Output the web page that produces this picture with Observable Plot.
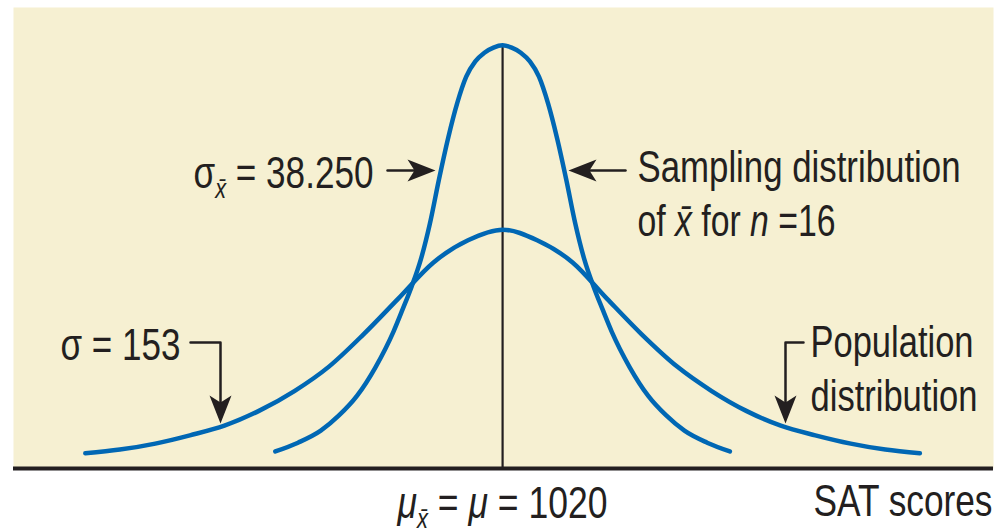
<!DOCTYPE html>
<html>
<head>
<meta charset="utf-8">
<script src="https://cdn.jsdelivr.net/npm/d3@7"></script>
<script src="https://cdn.jsdelivr.net/npm/@observablehq/plot@0.6"></script>
<style>
  html, body { margin: 0; padding: 0; background: #ffffff; }
  #chart svg { display: block; }
</style>
</head>
<body>
<div id="chart"></div>
<script>
// ---- Data (SAT scores on x, relative height on y) ----
const populationX = [561, 599, 638, 676, 714, 752, 791, 829, 867, 905, 944, 982, 1020,
                     1058, 1097, 1135, 1173, 1212, 1250, 1288, 1326, 1364, 1403, 1441, 1479];
const populationY = [3.3, 4.1, 5.4, 7.2, 9.3, 12.5, 16.8, 22.1, 29.1, 36.8, 44.7, 49.5, 51.8,
                     49.5, 44.7, 36.8, 29.1, 22.1, 16.8, 12.5, 9.3, 7.2, 5.4, 4.1, 3.3];

const samplingX = [770, 795, 820, 840, 860, 880, 900, 910, 920, 930, 940, 950, 960, 970, 980, 990, 1000, 1010,
                   1020, 1030, 1040, 1050, 1060, 1070, 1080, 1090, 1100, 1110, 1120, 1130, 1140, 1160, 1180,
                   1200, 1220, 1245, 1270];
const samplingY = [3.7, 5.6, 8.2, 11.5, 15.8, 21.9, 29.7, 34.5, 39.5, 45.3, 53.1, 62.7, 71.6, 79.2, 85.0, 88.3, 90.2, 91.3,
                   91.8, 91.3, 90.2, 88.3, 85.0, 79.2, 71.6, 62.7, 53.1, 45.3, 39.5, 34.5, 29.7, 21.9, 15.8,
                   11.5, 8.2, 5.6, 3.7];

const mean = 1020;
const samplingPeak = 91.8;

// ---- Annotations ----
const labelTexts = ["σ_{x̄} = 38.250", "Sampling distribution", "of *x̄* for *n* =16", "σ = 153",
                    "Population", "distribution", "*μ*_{x̄} = *μ* = 1020", "SAT scores"];
const labelX = [680, 1168.4, 1168.4, 533.7, 1358.7, 1358.7, 904.4, 1362];
const labelY = [60.95, 62.04, 50.54, 23.43, 24.08, 12.58, -10.63, -10.41];
const labelWidth = [180, 323, 198, 120, 163, 167, 210, 179];

const connectorIds = ["a", "a", "b", "b", "c", "c", "c", "d", "d", "d"];
const connectorX = [893.4, 935.2, 1155.2, 1105.7, 676.7, 709.7, 709.7, 1351, 1331.2, 1331.2];
const connectorY = [64.64, 64.64, 64.64, 64.64, 27.33, 27.33, 12.58, 27.33, 27.33, 12.58];

const headX = [946.2, 1092.5, 709.7, 1331.2];
const headY = [64.64, 64.64, 9.76, 9.76];
const headAngle = [90, 270, 180, 180];

// ---- Build tables ----
const population = populationX.map((x, i) => ({x, y: populationY[i]}));
const sampling = samplingX.map((x, i) => ({x, y: samplingY[i]}));
const labels = labelTexts.map((t, i) => ({t, x: labelX[i], y: labelY[i], w: labelWidth[i]}));
const connectors = connectorIds.map((id, i) => ({id, x: connectorX[i], y: connectorY[i]}));
const heads = headX.map((x, i) => ({x, y: headY[i], a: headAngle[i]}));

const ink = "#231f20";
const blue = "#0067b4";
const beige = "#f6f0d2";
const fontSize = 44;
const fontFamily = "'Liberation Sans Narrow', 'Liberation Sans', Arial, sans-serif";

// barbed arrowhead with its tip at the origin, pointing up
const arrowHead = {
  draw(ctx) {
    ctx.moveTo(0, 0);
    ctx.lineTo(11, 28);
    ctx.lineTo(0, 21);
    ctx.lineTo(-11, 28);
    ctx.closePath();
  }
};

const svg = Plot.plot({
  width: 999,
  height: 531,
  marginLeft: 13,
  marginRight: 6,
  marginTop: 7,
  marginBottom: 63,
  x: {domain: [482, 1560], axis: null},
  y: {domain: [0, 100], axis: null},
  style: {background: "#ffffff", overflow: "visible"},
  marks: [
    Plot.frame({fill: beige, stroke: "none"}),
    Plot.ruleX([mean], {y1: 0, y2: samplingPeak, stroke: ink, strokeWidth: 2.2}),
    Plot.line(population, {x: "x", y: "y", stroke: blue, strokeWidth: 4.5, curve: "monotone-x"}),
    Plot.line(sampling, {x: "x", y: "y", stroke: blue, strokeWidth: 4.5, curve: "monotone-x"}),
    Plot.ruleY([0], {stroke: ink, strokeWidth: 4}),
    Plot.line(connectors, {x: "x", y: "y", z: "id", stroke: ink, strokeWidth: 2.5, curve: "linear"}),
    Plot.dot(heads, {x: "x", y: "y", rotate: "a", symbol: arrowHead, r: 10, fill: ink, stroke: "none"}),
    Plot.text(labels, {x: "x", y: "y", text: "t", textAnchor: "start", lineAnchor: "bottom",
                       fontSize, fontFamily, fill: ink})
  ]
});

// rich text: _{...} subscript (italic), *...* italic; fit widths
const NS = "http://www.w3.org/2000/svg";
const widthByText = new Map(labels.map(d => [d.t, d.w]));
svg.querySelectorAll("text").forEach(el => {
  const s = el.textContent;
  if (!widthByText.has(s)) return;
  el.textContent = "";
  let shift = 0;
  for (const p of s.split(/(_\{[^}]*\}|\*[^*]*\*)/)) {
    if (!p) continue;
    const t = document.createElementNS(NS, "tspan");
    let dy = 0;
    if (p.startsWith("_{")) {
      t.textContent = p.slice(2, -1);
      t.setAttribute("font-size", fontSize * 0.62);
      t.setAttribute("font-style", "italic");
      dy = fontSize * 0.24;
    } else if (p.startsWith("*")) {
      t.textContent = p.slice(1, -1);
      t.setAttribute("font-style", "italic");
    } else {
      t.textContent = p;
    }
    if (dy !== shift) { t.setAttribute("dy", dy - shift); shift = dy; }
    el.appendChild(t);
  }
  el.setAttribute("textLength", widthByText.get(s));
  el.setAttribute("lengthAdjust", "spacingAndGlyphs");
  el.setAttribute("xml:space", "preserve");
});

document.getElementById("chart").appendChild(svg);
</script>
</body>
</html>
